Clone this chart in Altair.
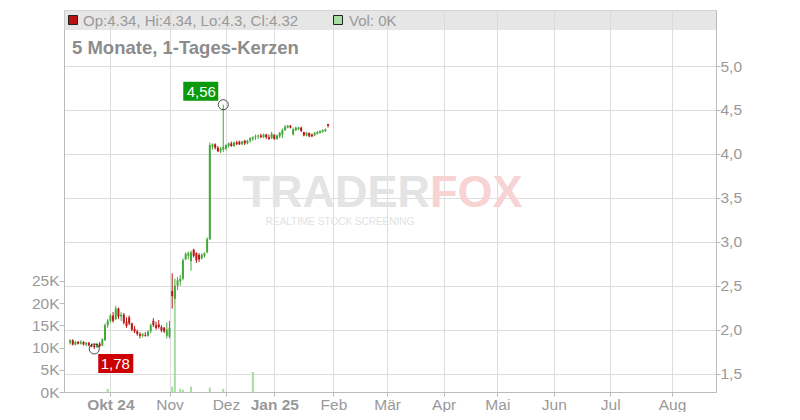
import json
import altair as alt
import pandas as pd

# ---------------- data ----------------
closed_days = ["2024-10-03", "2024-12-24", "2024-12-25", "2024-12-26", "2024-12-31",
               "2025-01-01", "2025-04-18", "2025-04-21", "2025-05-01"]
calendar = pd.bdate_range("2024-09-10", "2025-09-30")
calendar = calendar[~calendar.isin(pd.to_datetime(closed_days))]
trading_days = calendar.strftime("%Y-%m-%d").tolist()

# daily candles: Sep (15) | Oct (22) | Nov (21) | Dec (18) | Jan (21)
opens = [
    1.85, 1.88, 1.83, 1.86, 1.84, 1.86, 1.83, 1.85, 1.82, 1.82, 1.80, 1.84, 1.82, 1.88, 2.05,
    2.10, 2.16, 2.12, 2.24, 2.15, 2.17, 2.09, 2.14, 2.07, 2.01, 1.98, 1.95, 1.93, 1.94, 1.93, 1.98,
    2.10, 2.05, 2.06, 2.03, 2.02, 1.93,
    1.92, 2.44, 2.35, 2.50, 2.55, 2.58, 2.80, 2.84, 2.78, 2.91, 2.87, 2.85, 2.81, 2.84, 2.88, 3.03,
    4.08, 4.11, 4.07, 4.03, 4.05,
    4.06, 4.09, 4.12, 4.09, 4.13, 4.14, 4.11, 4.15, 4.12, 4.15, 4.17, 4.19, 4.20, 4.21, 4.19, 4.22,
    4.19, 4.18,
    4.22, 4.17, 4.20, 4.22, 4.27, 4.30, 4.32, 4.22, 4.27, 4.28, 4.30, 4.25, 4.21, 4.24, 4.22, 4.21,
    4.23, 4.24, 4.25, 4.26, 4.34,
]
highs = [
    1.89, 1.89, 1.87, 1.87, 1.88, 1.87, 1.86, 1.86, 1.84, 1.84, 1.85, 1.86, 1.90, 2.07, 2.12,
    2.18, 2.20, 2.27, 2.25, 2.20, 2.19, 2.14, 2.16, 2.08, 2.04, 2.00, 1.97, 1.96, 1.97, 1.99, 2.07,
    2.13, 2.09, 2.11, 2.05, 2.03, 2.08,
    2.10, 2.64, 2.58, 2.60, 2.62, 2.81, 2.88, 2.89, 2.90, 2.92, 2.88, 2.87, 2.87, 2.88, 3.05, 4.13,
    4.12, 4.12, 4.09, 4.08, 4.56,
    4.11, 4.13, 4.14, 4.14, 4.15, 4.15, 4.15, 4.16, 4.16, 4.19, 4.20, 4.22, 4.22, 4.23, 4.23, 4.23,
    4.22, 4.25,
    4.22, 4.22, 4.25, 4.29, 4.33, 4.33, 4.33, 4.30, 4.31, 4.31, 4.31, 4.25, 4.25, 4.24, 4.23, 4.25,
    4.26, 4.27, 4.28, 4.29, 4.34,
]
lows = [
    1.83, 1.82, 1.82, 1.83, 1.83, 1.82, 1.81, 1.81, 1.80, 1.78, 1.79, 1.80, 1.81, 1.87, 2.02,
    2.08, 2.08, 2.11, 2.12, 2.10, 2.06, 2.02, 2.05, 1.98, 1.96, 1.93, 1.90, 1.91, 1.92, 1.92, 1.96,
    2.03, 2.00, 2.01, 1.97, 1.96, 1.90,
    1.90, 2.24, 2.30, 2.45, 2.50, 2.56, 2.79, 2.80, 2.67, 2.82, 2.76, 2.77, 2.80, 2.82, 2.87, 3.02,
    4.05, 4.05, 4.02, 4.01, 4.02,
    4.04, 4.07, 4.08, 4.08, 4.10, 4.10, 4.10, 4.10, 4.11, 4.13, 4.15, 4.16, 4.17, 4.18, 4.18, 4.17,
    4.16, 4.17,
    4.16, 4.16, 4.18, 4.18, 4.26, 4.29, 4.29, 4.21, 4.26, 4.27, 4.25, 4.20, 4.20, 4.19, 4.19, 4.20,
    4.22, 4.23, 4.24, 4.25, 4.30,
]
closes = [
    1.88, 1.83, 1.86, 1.84, 1.86, 1.83, 1.85, 1.82, 1.81, 1.80, 1.84, 1.81, 1.89, 2.05, 2.10,
    2.16, 2.10, 2.24, 2.15, 2.17, 2.08, 2.04, 2.07, 2.00, 1.98, 1.95, 1.93, 1.95, 1.93, 1.98, 2.05,
    2.05, 2.02, 2.03, 1.99, 1.98, 2.00,
    2.02, 2.38, 2.50, 2.56, 2.58, 2.79, 2.86, 2.87, 2.88, 2.84, 2.79, 2.80, 2.85, 2.87, 3.03, 4.10,
    4.11, 4.07, 4.03, 4.06, 4.08,
    4.10, 4.12, 4.09, 4.13, 4.11, 4.11, 4.14, 4.12, 4.15, 4.18, 4.19, 4.20, 4.21, 4.19, 4.22, 4.19,
    4.17, 4.23,
    4.17, 4.21, 4.24, 4.27, 4.31, 4.32, 4.30, 4.28, 4.30, 4.30, 4.26, 4.21, 4.24, 4.20, 4.20, 4.24,
    4.25, 4.26, 4.27, 4.28, 4.32,
]
volume_days = ["2024-09-30", "2024-11-04", "2024-11-05", "2024-11-07", "2024-11-08",
               "2024-11-13", "2024-11-22", "2024-11-29", "2024-12-16"]
volume_vals = [700, 1200, 20000, 700, 500, 1200, 1000, 700, 4500]

month_labels = ["Okt 24", "Nov", "Dez", "Jan 25", "Feb", "Mär", "Apr", "Mai", "Jun", "Jul", "Aug"]
month_keys = ["2024-10", "2024-11", "2024-12", "2025-01", "2025-02", "2025-03",
              "2025-04", "2025-05", "2025-06", "2025-07", "2025-08"]
bold_months = ["Okt 24", "Jan 25"]
price_ticks = [1.5, 2.0, 2.5, 3.0, 3.5, 4.0, 4.5, 5.0]
volume_ticks = [0, 5000, 10000, 15000, 20000, 25000]

hi_point = {"date": ["2024-11-29"], "price": [4.56], "label": ["4,56"]}
lo_point = {"date": ["2024-09-23"], "price": [1.78], "label": ["1,78"]}

header_text = "Op:4.34, Hi:4.34, Lo:4.3, Cl:4.32"
volume_text = "Vol: 0K"
title_text = "5 Monate, 1-Tages-Kerzen"

# ---------------- tables ----------------
n = len(opens)
dates = trading_days[:n]
volumes = [0] * n
for d, v in zip(volume_days, volume_vals):
    volumes[dates.index(d)] = v
df = pd.DataFrame(dict(idx=list(range(n)), date=dates, open=opens, high=highs, low=lows,
                       close=closes, volume=volumes))

# month ticks sit on the first trading day of each month (trading-day axis)
tick_idx = [next(i for i, d in enumerate(trading_days) if d.startswith(k)) for k in month_keys]
label_map = {str(i): lab for i, lab in zip(tick_idx, month_labels)}
bold_idx = [i for i, lab in zip(tick_idx, month_labels) if lab in bold_months]

hi_df = pd.DataFrame(hi_point)
hi_df["idx"] = [trading_days.index(d) for d in hi_df["date"]]
lo_df = pd.DataFrame(lo_point)
lo_df["idx"] = [trading_days.index(d) for d in lo_df["date"]]

# ---------------- styles / layout ----------------
GREEN = "#44a83a"
RED = "#bb1515"
VOLG = "#a9dca3"
GRAY = "#999999"
FONT = "Liberation Sans"
W, H = 652, 382
LBL = 15.5

color_cond = alt.condition("datum.close >= datum.open", alt.value(GREEN), alt.value(RED))
bold_test = " || ".join(f"datum.value == {i}" for i in bold_idx)


def xt():
    return alt.X(
        "idx:Q",
        scale=alt.Scale(domain=[-0.4, 238.5], nice=False, zero=False),
        axis=alt.Axis(
            values=tick_idx,
            labelExpr=f"{json.dumps(label_map, ensure_ascii=False)}[''+datum.value]",
            labelFontWeight={"condition": {"test": bold_test, "value": "bold"}, "value": "normal"},
            title=None, grid=True, gridColor="#dddddd", domainColor="#bbbbbb",
            tickColor="#bbbbbb", tickSize=4, labelColor=GRAY, labelFontSize=LBL,
            labelPadding=1, labelFont=FONT, labelFlush=False,
        ),
    )


def ypr(field):
    return alt.Y(
        f"{field}:Q",
        scale=alt.Scale(domain=[1.29, 5.638], nice=False, zero=False),
        axis=alt.Axis(
            orient="right", values=price_ticks, title=None, grid=True, gridColor="#dddddd",
            labelExpr="replace(format(datum.value, '.1f'), '.', ',')",
            domainColor="#bbbbbb", tickColor="#bbbbbb", tickSize=4, labelPadding=0,
            labelColor=GRAY, labelFontSize=LBL, labelFont=FONT,
        ),
    )


base = alt.Chart(df)

wicks = base.mark_rule(strokeWidth=1).encode(x=xt(), y=ypr("low"), y2="high:Q", color=color_cond)
bodies = base.mark_bar(width=2).encode(x=xt(), y=ypr("open"), y2="close:Q", color=color_cond)

hi_circle = alt.Chart(hi_df).mark_point(shape="circle", size=100, filled=False, color="black",
                                         strokeWidth=1).encode(x=xt(), y=ypr("price"))
hi_box = alt.Chart(hi_df).mark_rect(color="#0a9a0a", xOffset=-40, x2Offset=-5, yOffset=-23,
                                    y2Offset=-4).encode(x=xt(), x2="idx:Q", y=ypr("price"), y2="price:Q")
hi_text = alt.Chart(hi_df).mark_text(color="white", fontSize=15, font=FONT, dx=-22, dy=-13,
                                     align="center", baseline="middle").encode(x=xt(), y=ypr("price"), text="label:N")

lo_circle = alt.Chart(lo_df).mark_point(shape="circle", size=100, filled=False, color="black",
                                         strokeWidth=1).encode(x=xt(), y=ypr("price"))
lo_box = alt.Chart(lo_df).mark_rect(color="#cc0000", xOffset=4, x2Offset=39, yOffset=5,
                                    y2Offset=24).encode(x=xt(), x2="idx:Q", y=ypr("price"), y2="price:Q")
lo_text = alt.Chart(lo_df).mark_text(color="white", fontSize=15, font=FONT, dx=21, dy=15,
                                     align="center", baseline="middle").encode(x=xt(), y=ypr("price"), text="label:N")

price_layer = alt.layer(wicks, bodies, hi_circle, hi_box, hi_text, lo_circle, lo_box, lo_text)

vol_bars = base.mark_bar(width=2, color=VOLG).encode(
    x=xt(),
    y=alt.Y("volume:Q", scale=alt.Scale(domain=[0, 86000], nice=False),
            axis=alt.Axis(orient="left", values=volume_ticks, title=None, grid=False,
                          labelExpr="(datum.value/1000) + 'K'", domainColor="#bbbbbb",
                          tickColor="#bbbbbb", tickSize=5, labelPadding=0,
                          labelColor=GRAY, labelFontSize=LBL, labelFont=FONT)),
)

one = pd.DataFrame({"t": [header_text], "v": [volume_text], "title": [title_text]})
deco = alt.Chart(one)

header = deco.mark_rect(color="#d9d9d9", opacity=0.65).encode(
    x=alt.value(0), x2=alt.value(W), y=alt.value(0), y2=alt.value(20))
sq_red = deco.mark_rect(color="#bb1111", stroke="#222222", strokeWidth=1).encode(
    x=alt.value(4.5), x2=alt.value(13.5), y=alt.value(5.5), y2=alt.value(14.5))
sq_green = deco.mark_rect(color=VOLG, stroke="#222222", strokeWidth=1).encode(
    x=alt.value(269.5), x2=alt.value(278.5), y=alt.value(5.5), y2=alt.value(14.5))
head_txt = deco.mark_text(align="left", baseline="middle", fontSize=15, font=FONT, color=GRAY).encode(
    x=alt.value(19), y=alt.value(10.5), text="t:N")
vol_txt = deco.mark_text(align="left", baseline="middle", fontSize=15, font=FONT, color=GRAY).encode(
    x=alt.value(285), y=alt.value(10.5), text="v:N")
title = deco.mark_text(align="left", baseline="middle", fontSize=18.5, fontWeight="bold", font=FONT,
                       color="#8c8c8c").encode(x=alt.value(8), y=alt.value(38), text="title:N")

wm = pd.DataFrame({"a": ["TRADER"], "b": ["FOX"], "c": ["REALTIME STOCK SCREENING"]})
wm_a = alt.Chart(wm).mark_text(align="right", baseline="alphabetic", fontSize=45, fontWeight="bold",
                               font=FONT, color="#e4e4e4").encode(x=alt.value(366), y=alt.value(197), text="a:N")
wm_b = alt.Chart(wm).mark_text(align="left", baseline="alphabetic", fontSize=45, fontWeight="bold",
                               font=FONT, color="#f7d3d3").encode(x=alt.value(366), y=alt.value(197), text="b:N")
wm_c = alt.Chart(wm).mark_text(align="center", baseline="top", fontSize=10, font=FONT,
                               color="#e2e2e2").encode(x=alt.value(276), y=alt.value(207), text="c:N")

chart = alt.layer(
    header, sq_red, sq_green, head_txt, vol_txt, title, wm_a, wm_b, wm_c, vol_bars, price_layer
).resolve_scale(y="independent").properties(
    width=W, height=H,
    autosize=alt.AutoSizeParams(type="none"),
    padding={"left": 56, "top": 2, "right": 76, "bottom": 20},
    background="white",
).configure_view(stroke="#cccccc")

chart.save("out.html", embed_options={"renderer": "svg", "actions": False})
